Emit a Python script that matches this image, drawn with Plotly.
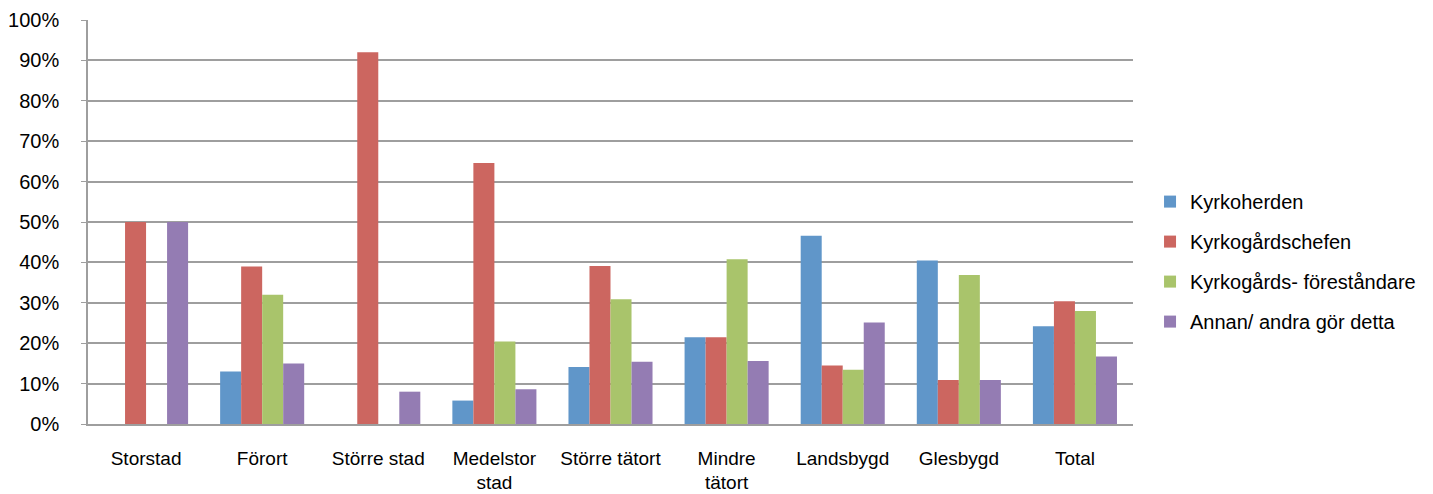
import plotly.graph_objects as go

categories = ["Storstad", "Förort", "Större stad", "Medelstor<br>stad", "Större tätort",
              "Mindre<br>tätort", "Landsbygd", "Glesbygd", "Total"]
series_names = ["Kyrkoherden", "Kyrkogårdschefen", "Kyrkogårds- föreståndare", "Annan/ andra gör detta"]
kyrkoherden = [0.0, 0.130, 0.0, 0.058, 0.141, 0.215, 0.466, 0.405, 0.242]
kyrkogardschefen = [0.500, 0.390, 0.920, 0.646, 0.391, 0.215, 0.145, 0.109, 0.304]
forestandare = [0.0, 0.320, 0.0, 0.204, 0.309, 0.408, 0.134, 0.369, 0.280]
annan = [0.500, 0.150, 0.080, 0.086, 0.154, 0.156, 0.251, 0.109, 0.167]
tick_vals = [0, 0.1, 0.2, 0.3, 0.4, 0.5, 0.6, 0.7, 0.8, 0.9, 1.0]
tick_text = ["0%", "10%", "20%", "30%", "40%", "50%", "60%", "70%", "80%", "90%", "100%"]

colors = ["#6096C9", "#CC6660", "#A9C46B", "#947CB3"]

fig = go.Figure()
for i, (name, vals) in enumerate(zip(series_names,
                                     [kyrkoherden, kyrkogardschefen, forestandare, annan])):
    fig.add_trace(go.Bar(x=categories, y=vals, name=name,
                         marker=dict(color=colors[i], line=dict(width=0)),
                         legendgroup=str(i)))

font = dict(family="Liberation Sans, Arial, sans-serif", size=20, color="#000000")
fig.update_layout(
    width=1433, height=494,
    margin=dict(l=88, r=300, t=20, b=70),
    paper_bgcolor="white", plot_bgcolor="white",
    barmode="group", bargap=0.276, bargroupgap=0,
    font=font,
    showlegend=True,
    legend=dict(x=1.0163, xanchor="left", y=0.402, yanchor="middle",
                traceorder="grouped", tracegroupgap=11, font=font,
                itemwidth=30, bgcolor="rgba(0,0,0,0)"),
)
fig.update_yaxes(range=[0, 1.0], tickvals=tick_vals, ticktext=tick_text,
                 showgrid=True, gridcolor="#9E9E9E", gridwidth=1.5,
                 showline=True, linecolor="#9E9E9E", linewidth=1.5,
                 ticks="outside", ticklen=5, tickcolor="#9E9E9E",
                 ticklabelstandoff=18, zeroline=False, automargin=False)
fig.update_xaxes(showline=True, linecolor="#9E9E9E", linewidth=1.5,
                 ticks="", ticklabelstandoff=16, tickangle=0, automargin=False,
                 tickfont=dict(family="Liberation Sans, Arial, sans-serif", size=19, color="#000000"))

fig.write_html("out.html")
